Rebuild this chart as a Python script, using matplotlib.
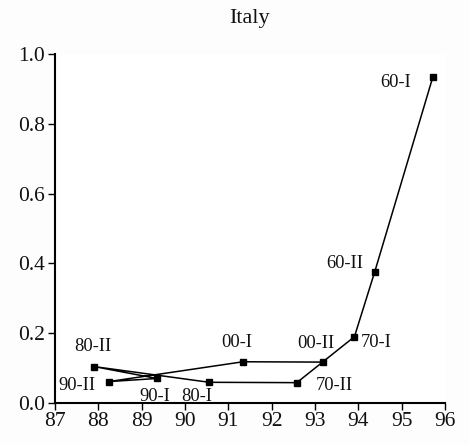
import matplotlib
matplotlib.use("Agg")
import matplotlib.pyplot as plt

# data (chronological order)
periods = ["60-I", "60-II", "70-I", "70-II", "80-I", "80-II",
           "90-I", "90-II", "00-I", "00-II"]
x_vals = [95.72, 94.38, 93.91, 92.58, 90.56, 87.91, 89.35, 88.24, 91.34, 93.19]
y_vals = [0.935, 0.376, 0.189, 0.057, 0.058, 0.103, 0.069, 0.060, 0.117, 0.116]

# label offsets in pixels (dx, dy)
label_offsets = [(-37, -6), (-30, 8), (22, -6), (38, -3), (-13, -14),
                 (-2, 20), (-2, -18), (-32, -4), (-6, 19), (-7, 19)]

plt.rcParams["font.family"] = ["Liberation Serif", "DejaVu Serif"]

fig = plt.figure(figsize=(4.69, 4.44), dpi=100, facecolor="#fdfdfd")
ax = fig.add_axes([55 / 469, 1 - 402.5 / 444, 390 / 469, 348.2 / 444])
ax.set_facecolor("white")

ax.plot(x_vals, y_vals, color="black", lw=1.1, marker="s", ms=4.2,
        mfc="black", mec="black")

for p, x, y, (dx, dy) in zip(periods, x_vals, y_vals, label_offsets):
    ax.annotate(p, (x, y), xytext=(dx, dy), textcoords="offset pixels",
                ha="center", va="center", fontsize=13.3, color="#111111")

ax.set_xlim(87, 96)
ax.set_ylim(0, 1.0)
ax.set_xticks(range(87, 97))
ax.set_yticks([0.0, 0.2, 0.4, 0.6, 0.8, 1.0])
ax.set_yticklabels(["0.0", "0.2", "0.4", "0.6", "0.8", "1.0"])
ax.tick_params(labelsize=15.5, direction="out", length=5, width=1, pad=2,
               labelcolor="#111111")
for s in ["top", "right"]:
    ax.spines[s].set_visible(False)
for s in ["left", "bottom"]:
    ax.spines[s].set_linewidth(1.5)

fig.text(250 / 469, 1 - 18 / 444, "Italy", ha="center", va="center",
         fontsize=16, color="#111111")

fig.savefig("out.png", dpi=100, facecolor=fig.get_facecolor())
